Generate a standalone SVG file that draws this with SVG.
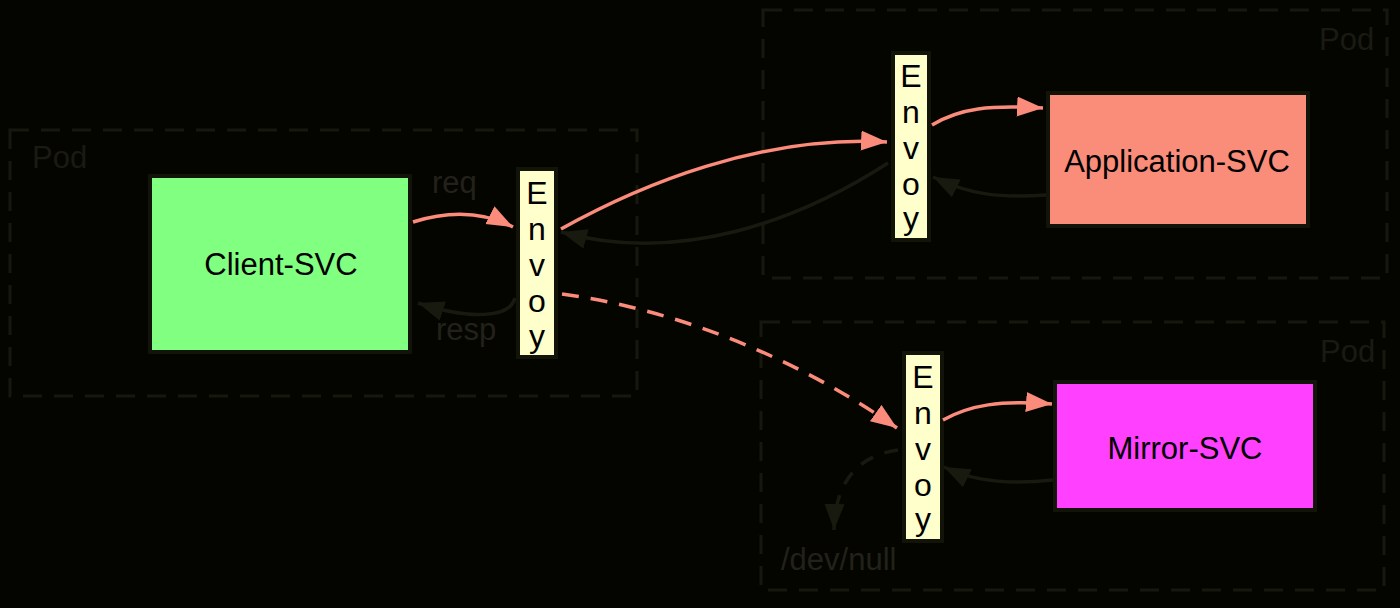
<svg xmlns="http://www.w3.org/2000/svg" width="1400" height="608" viewBox="0 0 1400 608">
<style>
  .pod{fill:none;stroke:#16180e;stroke-width:3;stroke-dasharray:19 12}
  .podlbl{font-family:"Liberation Sans",Arial,sans-serif;font-size:31px;fill:#1a1a14}
  .lbl{font-family:"Liberation Sans",Arial,sans-serif;font-size:31px;fill:#000}
  .env{font-family:"Liberation Sans",Arial,sans-serif;font-size:32px;fill:#000}
  .dlbl{font-family:"Liberation Sans",Arial,sans-serif;font-size:31px;fill:#22221a}
  .envoy{fill:#ffffcc;stroke:#12140a;stroke-width:4}
  .box{stroke:#12140a;stroke-width:4}
  .req{fill:none;stroke:#fb8b7a;stroke-width:3.5}
  .dark{fill:none;stroke:#181a0f;stroke-width:3.5}
</style>
<defs>
  <marker id="ahS" markerUnits="userSpaceOnUse" markerWidth="28" markerHeight="22" refX="26" refY="10" orient="auto">
    <path d="M0,0 L26,10 L0,20 Z" fill="#fb8b7a"/>
  </marker>
  <marker id="ahD" markerUnits="userSpaceOnUse" markerWidth="28" markerHeight="22" refX="26" refY="10" orient="auto">
    <path d="M0,0 L26,10 L0,20 Z" fill="#181a0f"/>
  </marker>
</defs>
<rect x="0" y="0" width="1400" height="608" fill="#050500"/>

<g id="pod-client">
  <rect class="pod" x="10" y="130" width="627" height="266"/>
  <text class="podlbl" x="32" y="168">Pod</text>
</g>
<g id="pod-app">
  <rect class="pod" x="763" y="10" width="624" height="268"/>
  <text class="podlbl" x="1319" y="50">Pod</text>
</g>
<g id="pod-mirror">
  <rect class="pod" x="761" y="322" width="623" height="268"/>
  <text class="podlbl" x="1320" y="362">Pod</text>
</g>

<g id="client-svc">
  <rect class="box" x="150" y="176" width="260" height="176" fill="#80ff80"/>
  <text class="lbl" x="281" y="275" text-anchor="middle">Client-SVC</text>
</g>
<g id="app-svc">
  <rect class="box" x="1048" y="93" width="260" height="133" fill="#fa8c7a"/>
  <text class="lbl" x="1177" y="172" text-anchor="middle">Application-SVC</text>
</g>
<g id="mirror-svc">
  <rect class="box" x="1055" y="382" width="260" height="128" fill="#ff40ff"/>
  <text class="lbl" x="1185" y="459" text-anchor="middle">Mirror-SVC</text>
</g>

<g id="envoy-client">
  <rect class="envoy" x="518" y="169" width="38" height="188"/>
  <g class="env" text-anchor="middle">
    <text x="537" y="204">E</text><text x="537" y="240">n</text><text x="537" y="276">v</text><text x="537" y="312">o</text><text x="537" y="347">y</text>
  </g>
</g>
<g id="envoy-app">
  <rect class="envoy" x="893" y="53" width="36" height="187"/>
  <g class="env" text-anchor="middle">
    <text x="911" y="87">E</text><text x="911" y="123">n</text><text x="911" y="159">v</text><text x="911" y="195">o</text><text x="911" y="229">y</text>
  </g>
</g>
<g id="envoy-mirror">
  <rect class="envoy" x="904" y="353" width="38" height="188"/>
  <g class="env" text-anchor="middle">
    <text x="923" y="388">E</text><text x="923" y="424">n</text><text x="923" y="460">v</text><text x="923" y="496">o</text><text x="923" y="530">y</text>
  </g>
</g>

<g id="connectors">
  <path class="req" d="M413,222 C445,212 480,210 513,227" marker-end="url(#ahS)"/>
  <path class="dark" d="M515,298 C510,318 470,320 418,303" marker-end="url(#ahD)"/>
  <path class="req" d="M561,229 C640,185 760,135 887,142" marker-end="url(#ahS)"/>
  <path class="dark" d="M888,163 C800,220 680,265 561,232" marker-end="url(#ahD)"/>
  <path class="req" d="M562,294 C680,310 800,360 897,428" stroke-width="4" stroke-dasharray="17 12" marker-end="url(#ahS)"/>
  <path class="req" d="M932,125 C960,108 990,105 1043,108" marker-end="url(#ahS)"/>
  <path class="dark" d="M1046,195 C1000,198 970,195 933,177" marker-end="url(#ahD)"/>
  <path class="req" d="M943,420 C970,405 1000,400 1052,404" marker-end="url(#ahS)"/>
  <path class="dark" d="M1053,480 C1010,485 975,482 944,467" marker-end="url(#ahD)"/>
  <path class="dark" d="M898,450 C860,455 835,480 834,530" stroke-dasharray="14 12" marker-end="url(#ahD)"/>
</g>

<g id="labels">
  <text class="dlbl" x="432" y="193">req</text>
  <text class="dlbl" x="436" y="340">resp</text>
  <text class="dlbl" x="781" y="570">/dev/null</text>
</g>
</svg>
